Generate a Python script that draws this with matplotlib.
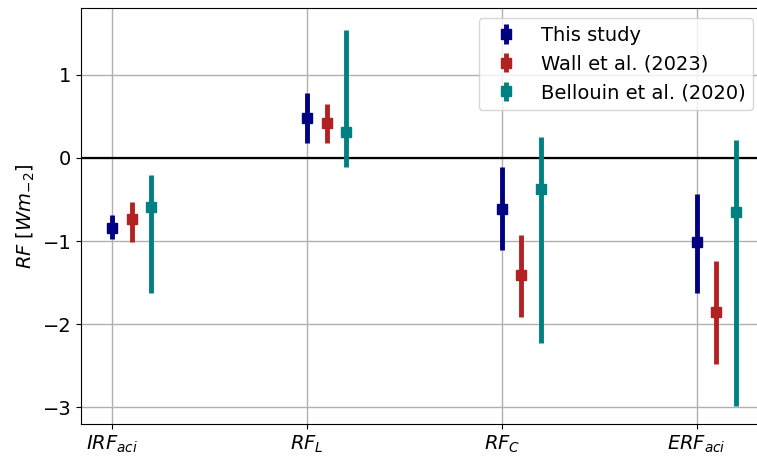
import numpy as np
import matplotlib
matplotlib.use('Agg')
import matplotlib.pyplot as plt

categories = ['$IRF_{aci}$', '$RF_L$', '$RF_C$', '$ERF_{aci}$']

# central values and (low, high) bounds, in W m-2
this_mid = [-0.84, 0.48, -0.61, -1.01]
this_lo = [-0.98, 0.18, -1.11, -1.62]
this_hi = [-0.69, 0.78, -0.11, -0.43]

wall_mid = [-0.74, 0.42, -1.41, -1.85]
wall_lo = [-1.01, 0.18, -1.91, -2.48]
wall_hi = [-0.53, 0.65, -0.93, -1.24]

bell_mid = [-0.59, 0.31, -0.375, -0.655]
bell_lo = [-1.62, -0.11, -2.23, -2.98]
bell_hi = [-0.20, 1.54, 0.255, 0.22]

series = [
    ('This study', this_mid, this_lo, this_hi, 'navy', 0.0),
    ('Wall et al. (2023)', wall_mid, wall_lo, wall_hi, 'firebrick', 0.1),
    ('Bellouin et al. (2020)', bell_mid, bell_lo, bell_hi, 'teal', 0.2),
]

fig, ax = plt.subplots(figsize=(7.57, 4.57), dpi=100)
x = np.arange(len(categories))

for label, mid, lo, hi, col, off in series:
    mid = np.array(mid)
    yerr = [mid - np.array(lo), np.array(hi) - mid]
    ax.errorbar(x + off, mid, yerr=yerr, fmt='s', color=col, ms=7,
                elinewidth=3.5, capsize=0, label=label, zorder=3)

ax.axhline(0, color='black', lw=1.6, zorder=2)
ax.grid(True, color='#b0b0b0', lw=1)
ax.set_axisbelow(True)
ax.set_xticks(x)
ax.set_xticklabels(categories, fontsize=14)
ax.tick_params(axis='y', labelsize=14)
ax.set_yticks([-3, -2, -1, 0, 1])
ax.set_xlim(-0.16, 3.34)
ax.set_ylim(-3.2, 1.8)
ax.set_ylabel('$RF$ $[Wm_{-2}]$', fontsize=14)
ax.legend(loc='upper right', fontsize=14)

# the original figure is cropped on the right, so the axes run past the edge
plt.subplots_adjust(left=0.107, right=1.008, top=0.982, bottom=0.072)
plt.savefig('out.png', dpi=100)
